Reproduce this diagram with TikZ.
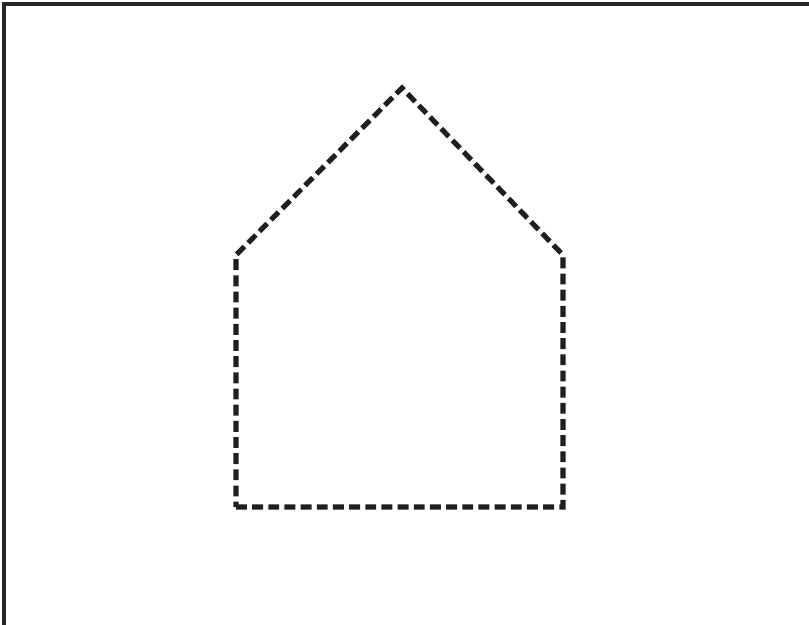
\documentclass[tikz,border=0pt]{standalone}
\begin{document}
\begin{tikzpicture}[x=0.02cm,y=-0.02cm]
\useasboundingbox (0,0) rectangle (809,625);
\draw[line width=2pt,black!85] (4,625) -- (4,4) -- (809,4);
\coordinate (bl) at (236,507);
\coordinate (br) at (563,507);
\coordinate (rt) at (563,255);
\coordinate (top) at (402,88);
\coordinate (lt) at (236,255);
\draw[line width=2.9pt,black!88,dash pattern=on 6.2pt off 3pt] (bl) -- (br) -- (rt) -- (top) -- (lt) -- cycle;
\end{tikzpicture}
\end{document}
